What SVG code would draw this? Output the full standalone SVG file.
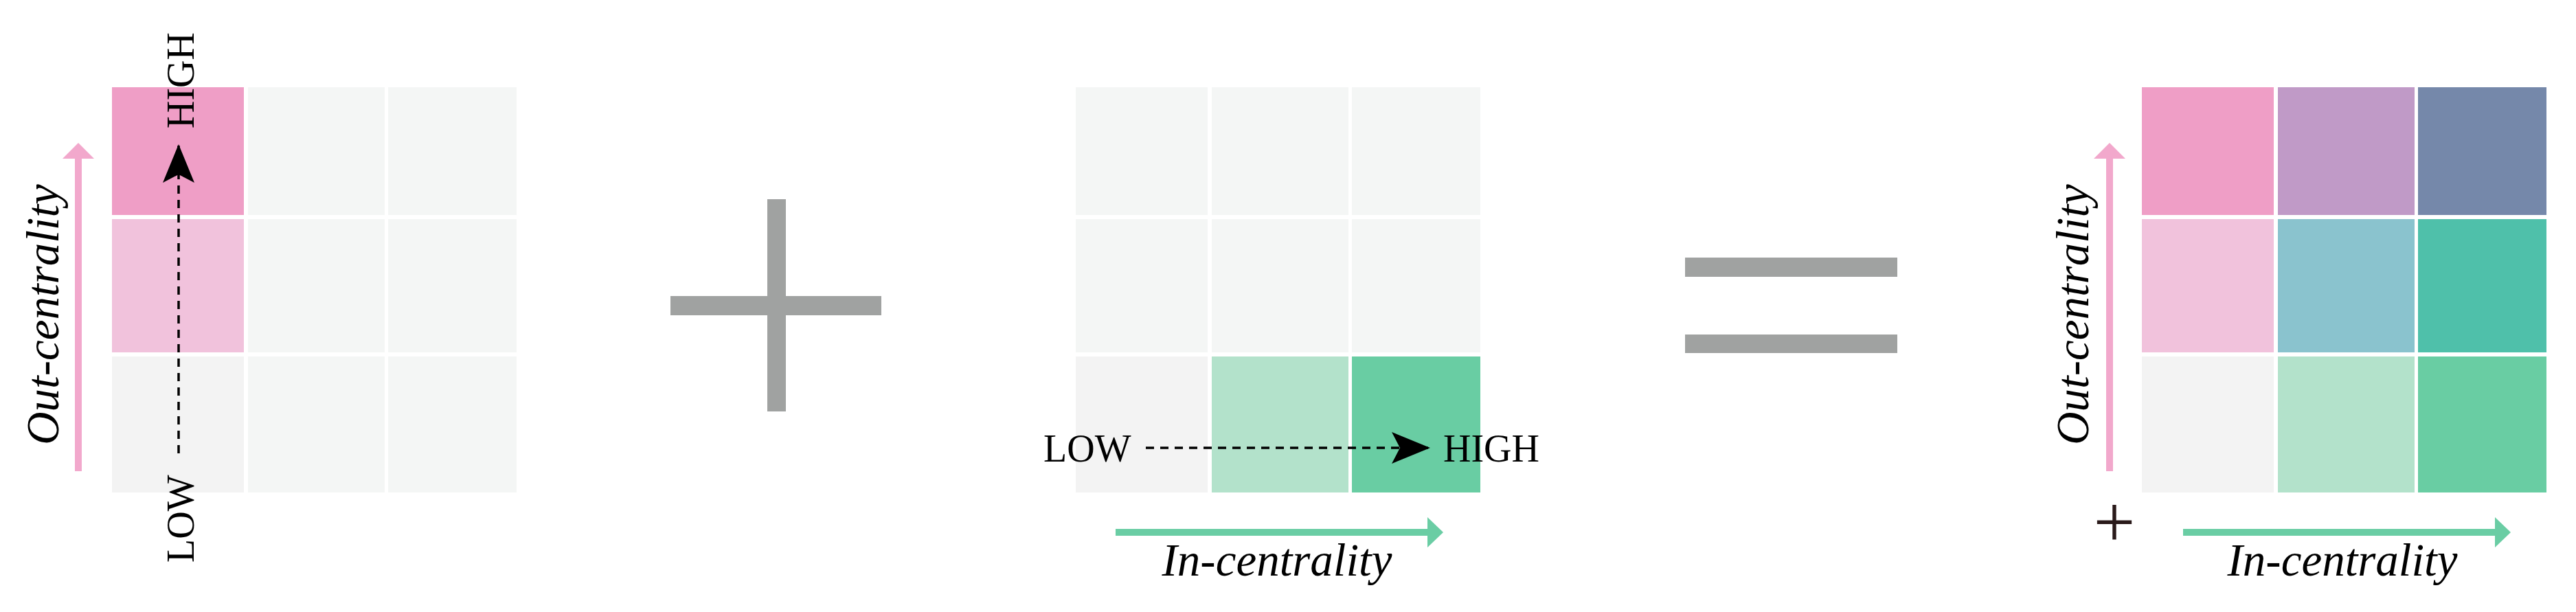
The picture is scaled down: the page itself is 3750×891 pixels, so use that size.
<svg xmlns="http://www.w3.org/2000/svg" width="3750" height="891" viewBox="0 0 3750 891">
<style>
.bg{fill:#F4F6F5}
.g0{fill:#F3F3F3}
.p2{fill:#EF9EC6}
.p1{fill:#F1C2DC}
.t1{fill:#B3E2CB}
.t2{fill:#69CDA3}
.pu{fill:#C09AC7}
.bl{fill:#7588AA}
.lb{fill:#8AC3CE}
.tl{fill:#4FC0AA}
.op{fill:#A0A2A1}
.lbl{font-family:"Liberation Serif","Times New Roman",serif;font-size:56px;fill:#000}
.ax{font-family:"Liberation Serif","Times New Roman",serif;font-style:italic;font-size:67px;fill:#000}
.dash{stroke:#000;stroke-width:3.5;stroke-dasharray:12 9;fill:none}
.pinkax{stroke:#F2A8CC;stroke-width:10;fill:none}
.greenax{stroke:#6ACDA4;stroke-width:10;fill:none}
</style>
<defs>
<marker id="stealth" viewBox="0 0 56 46" refX="54" refY="23" markerWidth="56" markerHeight="46" markerUnits="userSpaceOnUse" orient="auto">
<path d="M0,0 L56,23 L0,46 L12,23 Z" fill="#000"/>
</marker>
</defs>

<g id="grid-out">
<rect class="p2" x="163" y="127" width="192" height="186"/>
<rect class="bg" x="361" y="127" width="199" height="186"/>
<rect class="bg" x="565" y="127" width="187" height="186"/>
<rect class="p1" x="163" y="319" width="192" height="194"/>
<rect class="bg" x="361" y="319" width="199" height="194"/>
<rect class="bg" x="565" y="319" width="187" height="194"/>
<rect class="g0" x="163" y="519" width="192" height="198"/>
<rect class="bg" x="361" y="519" width="199" height="198"/>
<rect class="bg" x="565" y="519" width="187" height="198"/>
<text class="lbl" transform="translate(282,187) rotate(-90)">HIGH</text>
<text class="lbl" transform="translate(282,819) rotate(-90)">LOW</text>
<text class="ax" text-anchor="middle" transform="translate(85,458) rotate(-90)">Out-centrality</text>
</g>

<g id="plus">
<rect class="op" x="1117" y="290" width="27" height="309"/>
<rect class="op" x="976" y="431" width="307" height="28"/>
</g>

<g id="grid-in">
<rect class="bg" x="1566" y="127" width="192" height="186"/>
<rect class="bg" x="1764" y="127" width="199" height="186"/>
<rect class="bg" x="1968" y="127" width="187" height="186"/>
<rect class="bg" x="1566" y="319" width="192" height="194"/>
<rect class="bg" x="1764" y="319" width="199" height="194"/>
<rect class="bg" x="1968" y="319" width="187" height="194"/>
<rect class="g0" x="1566" y="519" width="192" height="198"/>
<rect class="t1" x="1764" y="519" width="199" height="198"/>
<rect class="t2" x="1968" y="519" width="187" height="198"/>
<text class="lbl" x="1519" y="672">LOW</text>
<text class="lbl" x="2101" y="672">HIGH</text>
<text class="ax" text-anchor="middle" x="1859" y="838">In-centrality</text>
</g>

<g id="equals">
<rect class="op" x="2453" y="375" width="309" height="28"/>
<rect class="op" x="2453" y="487" width="309" height="27"/>
</g>

<g id="grid-combined">
<rect class="p2" x="3118" y="127" width="192" height="186"/>
<rect class="pu" x="3316" y="127" width="199" height="186"/>
<rect class="bl" x="3520" y="127" width="187" height="186"/>
<rect class="p1" x="3118" y="319" width="192" height="194"/>
<rect class="lb" x="3316" y="319" width="199" height="194"/>
<rect class="tl" x="3520" y="319" width="187" height="194"/>
<rect class="g0" x="3118" y="519" width="192" height="198"/>
<rect class="t1" x="3316" y="519" width="199" height="198"/>
<rect class="t2" x="3520" y="519" width="187" height="198"/>
<text class="ax" text-anchor="middle" transform="translate(3040,458) rotate(-90)">Out-centrality</text>
<text class="ax" text-anchor="middle" x="3410" y="838">In-centrality</text>
<text x="3078" y="796" text-anchor="middle" font-family="Liberation Serif, serif" font-size="108" fill="#2A1A1A">+</text>
</g>

<g id="connectors">
<line class="dash" x1="260" y1="660" x2="260" y2="212" marker-end="url(#stealth)"/>
<line class="dash" x1="1668" y1="652" x2="2080" y2="652" marker-end="url(#stealth)"/>
<line class="pinkax" x1="114" y1="686" x2="114" y2="228"/>
<polygon fill="#F2A8CC" points="114,208 137,231 91,231"/>
<line class="greenax" x1="1624" y1="775" x2="2081" y2="775"/>
<polygon fill="#6ACDA4" points="2101,775 2078,753 2078,797"/>
<line class="pinkax" x1="3071" y1="686" x2="3071" y2="228"/>
<polygon fill="#F2A8CC" points="3071,208 3094,231 3048,231"/>
<line class="greenax" x1="3178" y1="775" x2="3635" y2="775"/>
<polygon fill="#6ACDA4" points="3655,775 3632,753 3632,797"/>
</g>
</svg>
